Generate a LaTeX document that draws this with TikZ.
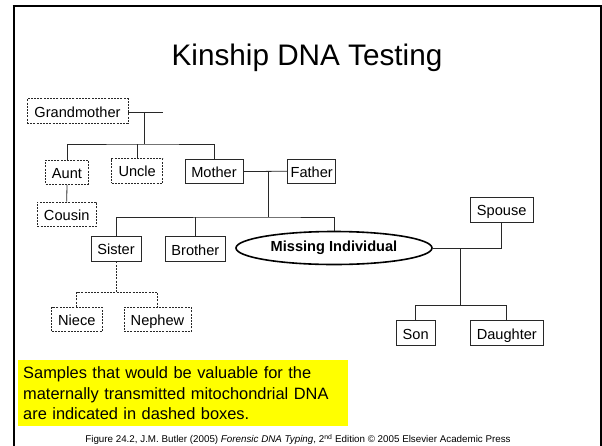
\documentclass[tikz,border=0pt]{standalone}
\usepackage{fontspec}
\setmainfont{Liberation Sans}
\usetikzlibrary{shapes.geometric}
\definecolor{notefill}{RGB}{255,255,0}
\definecolor{linecol}{RGB}{40,40,40}

\begin{document}
\begin{tikzpicture}[x=1pt,y=-1pt,
  kin/.style={draw=linecol,line width=0.8pt,inner sep=0pt,minimum height=24.5pt,
    text height=12pt,text depth=0pt,font=\fontsize{14.6}{17}\selectfont},
  mito/.style={kin,dash pattern=on 2pt off 1.2pt},
  tree/.style={linecol,line width=0.8pt}]
  \useasboundingbox (0,0) rectangle (602,445);
  % slide frame
  \draw[line width=2.6pt] (14,450) -- (14,6);
  \draw[line width=1.8pt] (12.7,6) -- (601.5,6);
  \draw[line width=1.3pt] (601,6) -- (601,450);
  \node[font=\fontsize{29.7}{34}\selectfont] (title) at (307,57.6) {Kinship DNA Testing};
  % maternal side
  \node[mito,minimum width=101pt]  (gm)     at (77.5,111)   {Grandmother};
  \node[mito,minimum width=42.6pt] (aunt)   at (67,172.2)   {Aunt};
  \node[mito,minimum width=51pt]   (uncle)  at (137.2,170.8) {Uncle};
  \node[kin,minimum width=58pt]    (mother) at (214,171.6)  {Mother};
  \node[kin,minimum width=48pt]    (father) at (311.7,171.2) {Father};
  \node[mito,minimum width=58.7pt] (cousin) at (66.7,214.2) {Cousin};
  % siblings
  \node[kin,minimum width=50pt]    (sister)  at (116,248.8)  {Sister};
  \node[kin,minimum width=60.7pt]  (brother) at (195.4,249)  {Brother};
  \node[ellipse,draw=black,line width=1.6pt,inner sep=0pt,minimum width=196pt,
    minimum height=33pt,font=\fontsize{14.6}{17}\selectfont\bfseries]
    (missing) at (334,248) {Missing Individual};
  \node[mito,minimum width=50.3pt] (niece)  at (76.8,319.5)  {Niece};
  \node[mito,minimum width=67pt]   (nephew) at (157.5,319.5) {Nephew};
  % own family
  \node[kin,minimum width=62.7pt]  (spouse)   at (501.7,209.7) {Spouse};
  \node[kin,minimum width=39.3pt]  (son)      at (415.7,333)   {Son};
  \node[kin,minimum width=73.7pt]  (daughter) at (506.8,333)   {Daughter};
  % junction points
  \coordinate (gmend) at (163.3,112);
  \coordinate (gmj)   at (144.3,144);
  \coordinate (mf)    at (268,171.6);
  \coordinate (sib)   at (268,217);
  \coordinate (nn)    at (116,292.3);
  \coordinate (ms)    at (460.3,248);
  \coordinate (kids)  at (460.3,305.7);
  % connectors
  \draw[tree] (gm.east |- gmend) -- (gmend);
  \draw[tree] (gmj |- gmend) -- (gmj);
  \draw[tree] (aunt.north) |- (gmj) -| (mother.north);
  \draw[tree] (uncle.north) -- (uncle.north |- gmj);
  \draw[tree] (aunt.south) -- (cousin.north);
  \draw[tree] (mother.east) -- (father.west);
  \draw[tree] (mf) -- (sib);
  \draw[tree] (sister.north) |- (sib) -| (missing.north);
  \draw[tree] (brother.north) -- (brother.north |- sib);
  \draw[tree,dash pattern=on 2pt off 1.2pt] (sister.south) -- (nn);
  \draw[tree,dash pattern=on 2pt off 1.2pt] (niece.north) |- (nn) -| (nephew.north);
  \draw[tree] (missing.east) -| (spouse.south);
  \draw[tree] (ms) -- (kids);
  \draw[tree] (son.north) |- (kids) -| (daughter.north);
  % note and source
  \node[fill=notefill,anchor=north west,minimum width=330pt,minimum height=66pt,
    text width=318.6pt,inner xsep=5.7pt,inner ysep=0pt,align=left,
    font=\fontsize{16.4}{20.5}\selectfont] (note) at (17.3,360)
    {Samples that would be valuable for the\\maternally transmitted mitochondrial DNA\\are indicated in dashed boxes.};
  \node[font=\fontsize{9.8}{12}\selectfont] (source) at (298,439.5)
    {Figure 24.2, J.M. Butler (2005) \textit{Forensic DNA Typing}, 2\textsuperscript{nd} Edition \textcopyright{} 2005 Elsevier Academic Press};
\end{tikzpicture}
\end{document}
